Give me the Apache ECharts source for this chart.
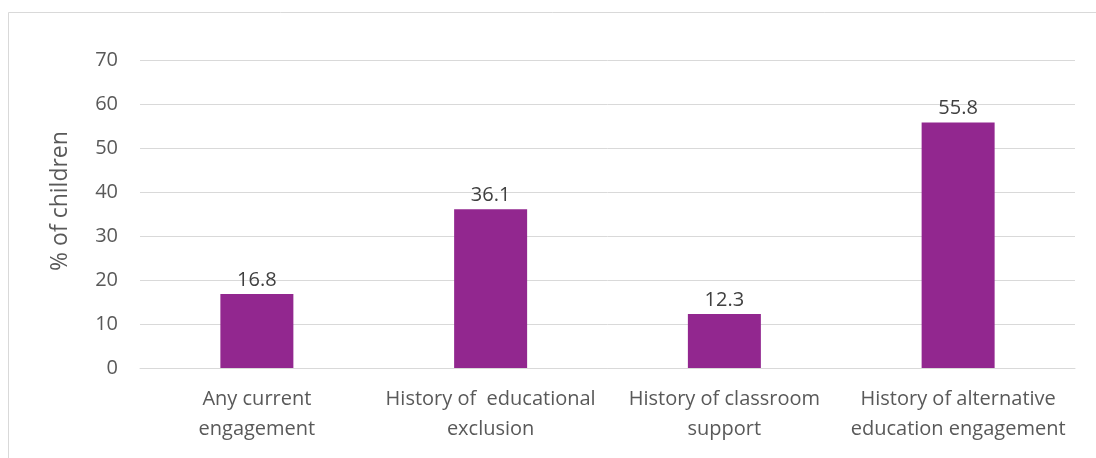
<!DOCTYPE html>
<html>
<head>
<meta charset="utf-8">
<script src="https://cdn.jsdelivr.net/npm/echarts@6/dist/echarts.min.js"></script>
<style>
  html, body { margin: 0; padding: 0; background: #fff; }
  #chart { width: 1096px; height: 458px; }
</style>
</head>
<body>
<div id="chart"></div>
<script>
// categories and values
const categories = [
  'Any current\nengagement',
  'History of  educational\nexclusion',
  'History of classroom\nsupport',
  'History of alternative\neducation engagement'
]
const percentChildren = [16.8, 36.1, 12.3, 55.8]
const yTicks = { min: 0, max: 70, interval: 10 }

const textColor = '#595959'
const fontFamily = '"Open Sans", "Noto Sans", sans-serif'

const chart = echarts.init(document.getElementById('chart'))

chart.setOption({
  animation: false,
  backgroundColor: '#fff',
  // outer frame of the chart area
  graphic: [{
    type: 'rect',
    shape: { x: 8.5, y: 12.5, width: 1100, height: 460 },
    style: { fill: 'none', stroke: '#d9d9d9', lineWidth: 1 },
    silent: true
  }],
  grid: { left: 140, right: 21, top: 60, bottom: 90, containLabel: false },
  xAxis: {
    type: 'category',
    data: categories,
    axisLine: { lineStyle: { color: '#d9d9d9', width: 1 } },
    axisTick: { show: false },
    axisLabel: {
      color: textColor,
      fontFamily: fontFamily,
      fontSize: 20,
      lineHeight: 30,
      margin: 16,
      interval: 0
    }
  },
  yAxis: {
    type: 'value',
    min: yTicks.min,
    max: yTicks.max,
    interval: yTicks.interval,
    name: '% of children',
    nameLocation: 'middle',
    nameGap: 68,
    nameRotate: 90,
    // the title sits a bit above the middle of the plot
    nameTextStyle: { color: textColor, fontFamily: fontFamily, fontSize: 23, padding: [0, 0, 0, 26] },
    axisLine: { show: false },
    axisTick: { show: false },
    axisLabel: { color: textColor, fontFamily: fontFamily, fontSize: 20, margin: 22 },
    splitLine: { lineStyle: { color: '#d9d9d9', width: 1 } }
  },
  series: [{
    type: 'bar',
    data: percentChildren,
    barWidth: 73,
    itemStyle: { color: '#92278f' },
    label: {
      show: true,
      position: 'top',
      distance: 4,
      color: '#404040',
      fontFamily: fontFamily,
      fontSize: 20
    }
  }]
})
</script>
</body>
</html>
